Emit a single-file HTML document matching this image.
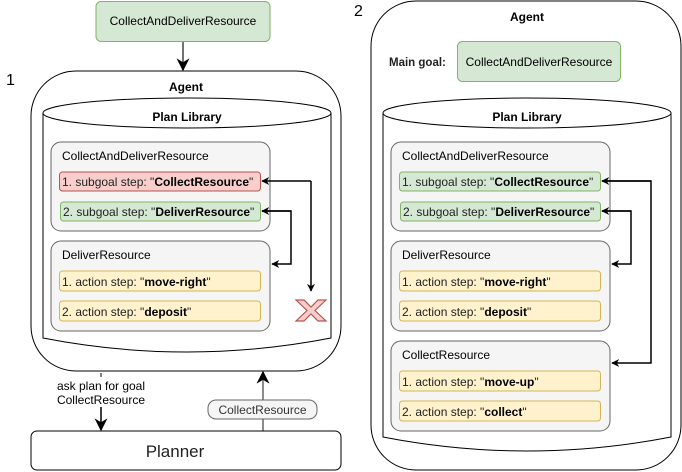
<!DOCTYPE html>
<html><head><meta charset="utf-8"><style>body{margin:0;background:#fff}svg{display:block}text{font-family:"Liberation Sans",sans-serif}</style></head><body>
<svg width="682" height="472" viewBox="0 0 682 472" xmlns="http://www.w3.org/2000/svg">
<defs>
<marker id="a" viewBox="0 0 10 10" refX="9" refY="5" markerWidth="8" markerHeight="8" markerUnits="userSpaceOnUse" orient="auto"><path d="M0,0 L10,5 L0,10 L3,5 z" fill="#000"/></marker>
<marker id="b" viewBox="0 0 10 10" refX="9" refY="5" markerWidth="13" markerHeight="13" markerUnits="userSpaceOnUse" orient="auto"><path d="M0,0 L10,5 L0,10 L3,5 z" fill="#000"/></marker>
</defs>
<g font-size="12" fill="#000">
<rect x="96" y="1.5" width="174" height="40" rx="5" fill="#d5e8d4" stroke="#82b366"/>
<text x="183" y="25" text-anchor="middle">CollectAndDeliverResource</text>
<line x1="183" y1="42" x2="183" y2="70" stroke="#444" stroke-width="1.5" marker-end="url(#b)"/>
<text x="6" y="85" font-size="16">1</text>
<rect x="31" y="71" width="310" height="300" rx="45" fill="none" stroke="#000"/>
<text x="186" y="91" text-anchor="middle" font-weight="bold">Agent</text>
<path d="M43,113 L43,338 Q187,366 331,338 L331,113" fill="#fff" stroke="#000"/>
<ellipse cx="187" cy="113" rx="144" ry="15" fill="#fff" stroke="#000"/>
<text x="187" y="121" text-anchor="middle" font-weight="bold">Plan Library</text>
<rect x="51" y="142" width="219" height="89" rx="10" fill="#f5f5f5" stroke="#666"/>
<text x="62" y="160">CollectAndDeliverResource</text>
<rect x="59.5" y="172" width="201" height="19" rx="3" fill="#f8cecc" stroke="#b85450"/>
<text x="62" y="186" fill="#222">1. subgoal step: "<tspan font-weight="bold" fill="#000">CollectResource</tspan>"</text>
<rect x="60.5" y="202" width="200" height="19" rx="3" fill="#d5e8d4" stroke="#82b366"/>
<text x="63" y="216" fill="#222">2. subgoal step: "<tspan font-weight="bold" fill="#000">DeliverResource</tspan>"</text>
<rect x="51" y="241" width="219" height="90" rx="10" fill="#f5f5f5" stroke="#666"/>
<text x="62" y="259">DeliverResource</text>
<rect x="59.5" y="271" width="201" height="20" rx="3" fill="#fff2cc" stroke="#d6b656"/>
<text x="62" y="286" fill="#222">1. action step: "<tspan font-weight="bold" fill="#000">move-right</tspan>"</text>
<rect x="59.5" y="301" width="201" height="20" rx="3" fill="#fff2cc" stroke="#d6b656"/>
<text x="62" y="316" fill="#222">2. action step: "<tspan font-weight="bold" fill="#000">deposit</tspan>"</text>
<line x1="311" y1="181" x2="262" y2="181" stroke="#000" stroke-width="1.5" marker-end="url(#a)"/>
<line x1="311" y1="181" x2="311" y2="291" stroke="#000" stroke-width="1.5" marker-end="url(#a)"/>
<polyline points="262,211 291,211 291,264 272,264" fill="none" stroke="#000" stroke-width="1.5" marker-end="url(#a)"/>
<line x1="291" y1="211" x2="262" y2="211" stroke="#000" stroke-width="1.5" marker-end="url(#a)"/>
<path d="M296,300 L304,300 L311,307 L318,300 L326,300 L315,310.5 L326,321 L318,321 L311,314 L304,321 L296,321 L307,310.5 Z" fill="#f8cecc" stroke="#b85450" stroke-width="1.2"/>
<line x1="101" y1="373" x2="101" y2="377" stroke="#000"/>
<text x="101" y="390" text-anchor="middle">ask plan for goal</text>
<text x="101" y="404" text-anchor="middle">CollectResource</text>
<line x1="101" y1="407" x2="101" y2="430" stroke="#000" stroke-width="1.5" marker-end="url(#b)"/>
<line x1="263" y1="431" x2="263" y2="372" stroke="#666" stroke-width="1.5" marker-end="url(#b)"/>
<rect x="208" y="400" width="109" height="19" rx="8" fill="#f5f5f5" stroke="#666"/>
<text x="262.5" y="414" text-anchor="middle" fill="#333">CollectResource</text>
<rect x="31" y="431" width="310" height="39" rx="6" fill="#fff" stroke="#000"/>
<text x="175" y="457" text-anchor="middle" font-size="17" fill="#222">Planner</text>
<text x="354" y="16" font-size="16">2</text>
<rect x="371" y="1" width="310" height="469" rx="45" fill="none" stroke="#000"/>
<text x="527" y="21" text-anchor="middle" font-weight="bold">Agent</text>
<text x="389" y="66" font-size="11.5" font-weight="bold" fill="#222">Main goal:</text>
<rect x="457.5" y="41.5" width="163" height="40" rx="5" fill="#d5e8d4" stroke="#82b366"/>
<text x="539" y="66" text-anchor="middle">CollectAndDeliverResource</text>
<path d="M383,113 L383,437 Q527,465 671,437 L671,113" fill="#fff" stroke="#000"/>
<ellipse cx="527" cy="113" rx="144" ry="15" fill="#fff" stroke="#000"/>
<text x="527" y="121" text-anchor="middle" font-weight="bold">Plan Library</text>
<rect x="391" y="142" width="219" height="89" rx="10" fill="#f5f5f5" stroke="#666"/>
<text x="402" y="160">CollectAndDeliverResource</text>
<rect x="399.5" y="172" width="201" height="19" rx="3" fill="#d5e8d4" stroke="#82b366"/>
<text x="402" y="186" fill="#222">1. subgoal step: "<tspan font-weight="bold" fill="#000">CollectResource</tspan>"</text>
<rect x="400.5" y="202" width="200" height="19" rx="3" fill="#d5e8d4" stroke="#82b366"/>
<text x="403" y="216" fill="#222">2. subgoal step: "<tspan font-weight="bold" fill="#000">DeliverResource</tspan>"</text>
<rect x="391" y="241" width="219" height="90" rx="10" fill="#f5f5f5" stroke="#666"/>
<text x="402" y="259">DeliverResource</text>
<rect x="399.5" y="271" width="201" height="20" rx="3" fill="#fff2cc" stroke="#d6b656"/>
<text x="402" y="286" fill="#222">1. action step: "<tspan font-weight="bold" fill="#000">move-right</tspan>"</text>
<rect x="399.5" y="301" width="201" height="20" rx="3" fill="#fff2cc" stroke="#d6b656"/>
<text x="402" y="316" fill="#222">2. action step: "<tspan font-weight="bold" fill="#000">deposit</tspan>"</text>
<rect x="391" y="341" width="219" height="90" rx="10" fill="#f5f5f5" stroke="#666"/>
<text x="402" y="359">CollectResource</text>
<rect x="399.5" y="371" width="201" height="20" rx="3" fill="#fff2cc" stroke="#d6b656"/>
<text x="402" y="386" fill="#222">1. action step: "<tspan font-weight="bold" fill="#000">move-up</tspan>"</text>
<rect x="399.5" y="401" width="201" height="20" rx="3" fill="#fff2cc" stroke="#d6b656"/>
<text x="402" y="416" fill="#222">2. action step: "<tspan font-weight="bold" fill="#000">collect</tspan>"</text>
<polyline points="602,181 651,181 651,363 612,363" fill="none" stroke="#000" stroke-width="1.5" marker-end="url(#a)"/>
<line x1="651" y1="181" x2="602" y2="181" stroke="#000" stroke-width="1.5" marker-end="url(#a)"/>
<polyline points="602,211 631,211 631,264 612,264" fill="none" stroke="#000" stroke-width="1.5" marker-end="url(#a)"/>
<line x1="631" y1="211" x2="602" y2="211" stroke="#000" stroke-width="1.5" marker-end="url(#a)"/>
</g>
</svg>
</body></html>
